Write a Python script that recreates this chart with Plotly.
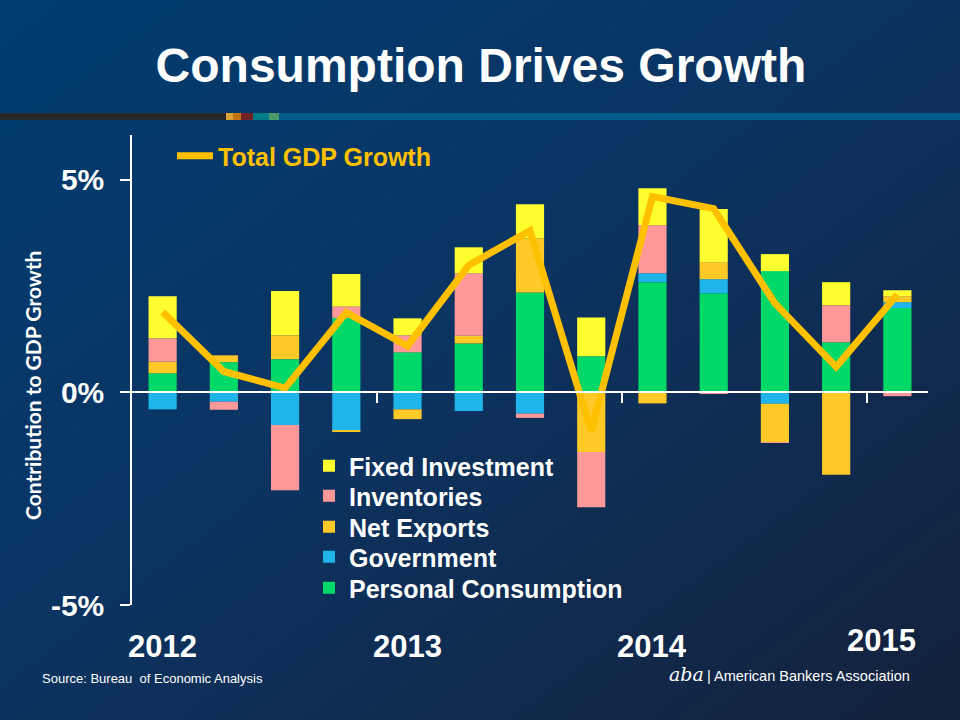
import base64
import numpy as np
import plotly.graph_objects as go

# ---------------- data ----------------
quarters = ["2012 Q1", "2012 Q2", "2012 Q3", "2012 Q4",
            "2013 Q1", "2013 Q2", "2013 Q3", "2013 Q4",
            "2014 Q1", "2014 Q2", "2014 Q3", "2014 Q4",
            "2015 Q1"]
personal_consumption = [0.45, 0.71, 0.78, 1.75, 0.94, 1.15, 2.35, 0.85, 2.59, 2.33, 2.85, 1.18, 1.98]
government = [-0.40, -0.22, -0.77, -0.89, -0.40, -0.44, -0.50, 0.00, 0.21, 0.33, -0.27, 0.00, 0.14]
net_exports = [0.27, 0.16, 0.56, -0.02, -0.23, 0.18, 1.27, -1.40, -0.26, 0.40, -0.90, -1.94, 0.14]
inventories = [0.55, -0.19, -1.53, 0.27, 0.40, 1.47, -0.10, -1.30, 1.13, -0.03, -0.02, 0.87, -0.09]
fixed_investment = [0.99, 0.00, 1.04, 0.76, 0.40, 0.61, 0.80, 0.91, 0.87, 1.25, 0.40, 0.54, 0.14]
total_gdp_growth = [1.89, 0.49, 0.10, 1.88, 1.09, 2.99, 3.80, -0.92, 4.60, 4.32, 2.09, 0.60, 2.30]

y_tick_values = [-5, 0, 5]
y_tick_labels = ["-5%", "0%", "5%"]

# ---------------- layout geometry ----------------
W, H = 960, 720
ML, MR, MT, MB = 132, 32, 135, 115
PW, PH = W - ML - MR, H - MT - MB


def px(x):
    return (x - ML) / PW


def py(y):
    return (H - MB - y) / PH


x = np.arange(len(quarters))
year_labels = [q.split()[0] for q in quarters if q.endswith("Q1")]
year_pos = [i for i, q in enumerate(quarters) if q.endswith("Q1")]
year_bounds = [p - 0.5 for p in year_pos[1:]]

# name, values, colour, legend id, legend row centre (px)
series = [
    ("Personal Consumption", personal_consumption, "#00d868", "legend6", 588),
    ("Government", government, "#1fb4ea", "legend5", 557),
    ("Net Exports", net_exports, "#ffc928", "legend4", 527),
    ("Inventories", inventories, "#ff9999", "legend3", 496),
    ("Fixed Investment", fixed_investment, "#ffff30", "legend", 466),
]

font_family = "Liberation Sans, Arial, sans-serif"

fig = go.Figure()
legend_layouts = {}
for name, vals, col, leg, ycen in series:
    fig.add_trace(go.Bar(x=x, y=vals, name=name, marker=dict(color=col, line=dict(width=0)),
                         legend=leg))
    legend_layouts[leg] = dict(x=px(309), y=py(ycen), xanchor="left", yanchor="middle",
                               bgcolor="rgba(0,0,0,0)",
                               font=dict(family=font_family, size=25, color="white", weight="bold"))

fig.add_trace(go.Scatter(x=x, y=total_gdp_growth, name="Total GDP Growth", mode="lines",
                         line=dict(color="#ffc000", width=7), legend="legend2"))
legend_layouts["legend2"] = dict(x=px(172), y=py(156), xanchor="left", yanchor="middle",
                                 bgcolor="rgba(0,0,0,0)", itemwidth=36,
                                 font=dict(family=font_family, size=25, color="#ffc000", weight="bold"))

# background gradient
svg = ('<svg xmlns="http://www.w3.org/2000/svg" width="960" height="720">'
       '<defs><linearGradient id="g" x1="0" y1="0" x2="1" y2="1">'
       '<stop offset="0" stop-color="#003d70"/>'
       '<stop offset="0.45" stop-color="#0b3462"/>'
       '<stop offset="1" stop-color="#14213b"/>'
       '</linearGradient></defs>'
       '<rect width="960" height="720" fill="url(#g)"/></svg>')
src = "data:image/svg+xml;base64," + base64.b64encode(svg.encode()).decode()
fig.add_layout_image(dict(source=src, xref="paper", yref="paper", x=px(0), y=py(0),
                          sizex=W / PW, sizey=H / PH, xanchor="left", yanchor="top",
                          sizing="stretch", layer="below"))

# colour stripe under title
stripe = [(0, 226, "#272727"), (226, 233, "#d9a234"), (233, 241, "#c47314"),
          (241, 253, "#6e2228"), (253, 269, "#007b87"), (269, 279, "#4e9a6c"),
          (279, 960, "#005c8c")]
for x0, x1, c in stripe:
    fig.add_shape(type="rect", xref="paper", yref="paper", x0=px(x0), x1=px(x1),
                  y0=py(120), y1=py(113), fillcolor=c, line=dict(width=0), layer="below")

annotations = []
for lab, pos in zip(year_labels, year_pos):
    last = lab == year_labels[-1]
    annotations.append(dict(x=pos, y=py(646 if not last else 640), xref="x", yref="paper",
                            text=lab, showarrow=False, xshift=-16 if last else 0,
                            font=dict(family=font_family, size=31, color="white", weight="bold"),
                            xanchor="center", yanchor="middle"))
annotations.append(dict(x=px(32), y=py(386), xref="paper", yref="paper",
                        text="Contribution to GDP Growth", textangle=-90, showarrow=False,
                        font=dict(family="Lato, Open Sans, sans-serif", size=21, color="white", weight="bold"),
                        xanchor="center", yanchor="middle"))
annotations.append(dict(x=px(40), y=py(678), xref="paper", yref="paper",
                        text="Source: Bureau  of Economic Analysis", showarrow=False,
                        font=dict(family=font_family, size=13, color="white"),
                        xanchor="left", yanchor="middle"))
annotations.append(dict(x=px(912), y=py(676), xref="paper", yref="paper",
                        text="| American Bankers Association", showarrow=False,
                        font=dict(family=font_family, size=14.5, color="white"),
                        xanchor="right", yanchor="middle"))
annotations.append(dict(x=px(706), y=py(674), xref="paper", yref="paper",
                        text="<i>aba</i>", showarrow=False,
                        font=dict(family="DejaVu Serif, serif", size=19, color="white"),
                        xanchor="right", yanchor="middle"))

fig.update_layout(
    width=W, height=H,
    margin=dict(l=ML, r=MR, t=MT, b=MB, pad=0),
    paper_bgcolor="#0b3360",
    plot_bgcolor="rgba(0,0,0,0)",
    barmode="relative",
    bargap=0.54,
    title=dict(text="Consumption Drives Growth", x=0.501, xref="container", y=1 - 65 / H,
               yref="container", xanchor="center", yanchor="middle",
               font=dict(family=font_family, size=48, color="white", weight="bold")),
    xaxis=dict(range=[-0.5, len(quarters) - 0.5], showgrid=False, zeroline=False,
               anchor="free", position=5 / 11.05,
               showline=True, linecolor="white", linewidth=1.5,
               tickmode="array", tickvals=year_bounds, ticks="outside", ticklen=10,
               tickcolor="white", tickwidth=1.5, showticklabels=False),
    yaxis=dict(range=[-5, 6.05], showgrid=False, zeroline=False,
               showline=True, linecolor="white", linewidth=1.5,
               tickmode="array", tickvals=y_tick_values, ticktext=y_tick_labels,
               ticks="outside", ticklen=10, tickcolor="white", tickwidth=1.5,
               ticklabelstandoff=10,
               tickfont=dict(family=font_family, size=30, color="white", weight="bold")),
    annotations=annotations,
    showlegend=True,
    **legend_layouts,
)

fig.write_html("out.html", config={"displayModeBar": False},
               post_script="document.body.style.margin='0';")
